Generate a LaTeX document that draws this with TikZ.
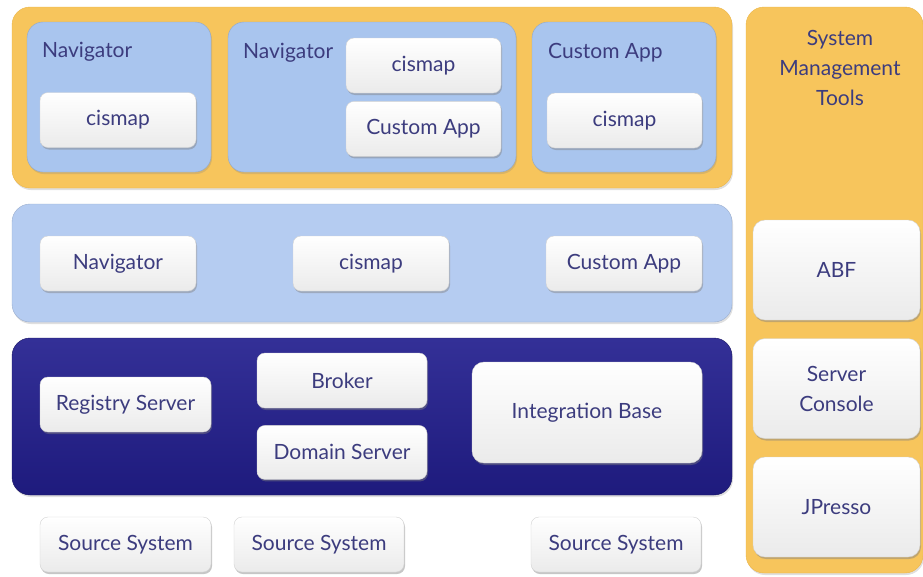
\documentclass[tikz,border=0pt]{standalone}
\usepackage{fontspec}
\setmainfont{Lato}
\usetikzlibrary{positioning,shadows}

\definecolor{tooltan}{HTML}{F7C55C}
\definecolor{toolrim}{HTML}{EBB548}
\definecolor{apppale}{HTML}{A9C5EE}
\definecolor{midpale}{HTML}{B5CCF1}
\definecolor{basenavy}{HTML}{221E8E}
\definecolor{labelink}{HTML}{3C3C7E}

\tikzset{
  layer/.style={rectangle, rounded corners=18pt, inner sep=0pt,
    drop shadow={shadow xshift=1pt, shadow yshift=-2pt, opacity=0.25}},
  comp/.style={rectangle, rounded corners=8pt, inner sep=0pt, align=center,
    top color=white, bottom color=gray!16, draw=gray!35, text=labelink,
    font=\fontsize{21}{30}\selectfont,
    drop shadow={shadow xshift=1pt, shadow yshift=-2pt, opacity=0.45}},
  tag/.style={anchor=west, inner sep=0pt, text=labelink, font=\fontsize{21}{30}\selectfont}
}

\begin{document}
\begin{tikzpicture}[x=1pt,y=-1pt]
  \useasboundingbox (0,0) rectangle (923,576);

  % clients
  \node[layer, fill=tooltan, draw=toolrim, minimum width=720pt, minimum height=181pt] (clients) at (372,97.5) {};
  \node[layer, rounded corners=16pt, fill=apppale, draw=apppale!85!black, minimum width=184pt, minimum height=150pt] (navA) at (119,97) {};
  \node[layer, rounded corners=16pt, fill=apppale, draw=apppale!85!black, minimum width=288pt, minimum height=150pt] (navB) at (372,97) {};
  \node[layer, rounded corners=16pt, fill=apppale, draw=apppale!85!black, minimum width=184pt, minimum height=150pt] (appC) at (624,97) {};
  \node[tag] (navAtag) at (42,52) {Navigator};
  \node[tag] (navBtag) at (243,53) {Navigator};
  \node[tag] (appCtag) at (548,53) {Custom App};
  \node[comp, minimum width=156pt, minimum height=55pt] (mapA) at (118,120) {cismap};
  \node[comp, minimum width=155pt, minimum height=55pt] (mapB) at (423.5,65.5) {cismap};
  \node[comp, minimum width=155pt, minimum height=55pt] (appB) [below=8pt of mapB] {Custom App};
  \node[comp, minimum width=155pt, minimum height=55pt] (mapC) at (624.5,120.5) {cismap};

  % web layer
  \node[layer, fill=midpale, draw=midpale!85!black, minimum width=720pt, minimum height=118pt] (web) at (372,263) {};
  \node[comp, minimum width=156pt, minimum height=55pt] (navW) at (118,263.5) {Navigator};
  \node[comp, minimum width=156pt, minimum height=55pt] (mapW) at (371,263.5) {cismap};
  \node[comp, minimum width=156pt, minimum height=55pt] (appW) at (624,263.5) {Custom App};

  % server layer
  \node[layer, top color=basenavy!92!white, bottom color=basenavy!88!black, draw=basenavy!70!black, minimum width=720pt, minimum height=157pt] (base) at (372,416.5) {};
  \node[comp, minimum width=171pt, minimum height=55pt] (registry) at (125.5,404.5) {Registry Server};
  \node[comp, minimum width=170pt, minimum height=55pt] (broker) at (342,380.5) {Broker};
  \node[comp, minimum width=170pt, minimum height=54pt] (domain) [below=17pt of broker] {Domain Server};
  \node[comp, rounded corners=12pt, minimum width=230pt, minimum height=101pt] (integ) at (587,412.5) {Integration Base};

  % sources
  \node[comp, minimum width=171pt, minimum height=55pt] (srcA) at (125.5,544.5) {Source System};
  \node[comp, minimum width=170pt, minimum height=55pt] (srcB) at (319,544.5) {Source System};
  \node[comp, minimum width=170pt, minimum height=55pt] (srcC) at (616,544.5) {Source System};

  % management tools
  \node[layer, fill=tooltan, draw=toolrim, minimum width=177pt, minimum height=566pt] (tools) at (834.5,290) {};
  \node[inner sep=0pt, align=center, text=labelink, font=\fontsize{21}{30}\selectfont] (toolstag) at (840,68) {System\\Management\\Tools};
  \node[comp, rounded corners=12pt, minimum width=167pt, minimum height=100pt] (abf) at (836.5,270) {ABF};
  \node[comp, rounded corners=12pt, minimum width=167pt, minimum height=100pt] (console) at (836.5,388.5) {Server\\Console};
  \node[comp, rounded corners=12pt, minimum width=167pt, minimum height=100pt] (jpresso) at (836.5,507) {JPresso};
\end{tikzpicture}
\end{document}
